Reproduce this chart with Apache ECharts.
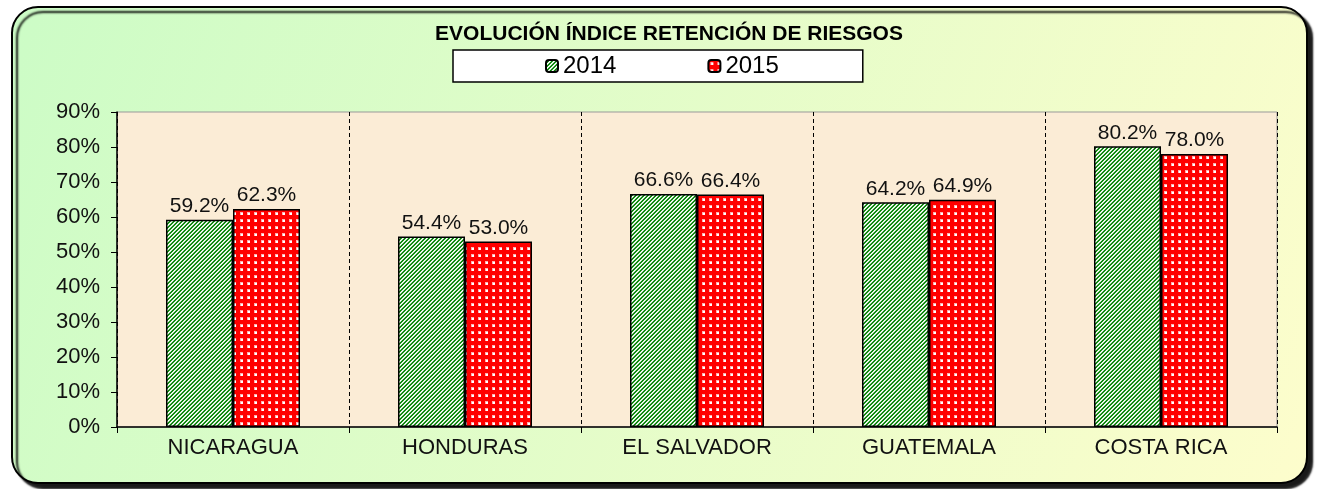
<!DOCTYPE html>
<html>
<head>
<meta charset="utf-8">
<script src="https://cdn.jsdelivr.net/npm/echarts@6/dist/echarts.min.js"></script>
<style>
  html, body { margin: 0; padding: 0; background: #fff; }
  #main { width: 1319px; height: 489px; }
</style>
</head>
<body>
<div id="main"></div>
<script>
const countries = ["NICARAGUA", "HONDURAS", "EL SALVADOR", "GUATEMALA", "COSTA RICA"];
const values2014 = [59.2, 54.4, 66.6, 64.2, 80.2];
const values2015 = [62.3, 53.0, 66.4, 64.9, 78.0];
const yTicks = [0, 10, 20, 30, 40, 50, 60, 70, 80, 90];

// trama verde de rayas diagonales
function stripePattern() {
  const c = document.createElement("canvas");
  c.width = 4; c.height = 4;
  const ctx = c.getContext("2d");
  const img = ctx.createImageData(4, 4);
  const cols = [[255, 255, 255], [200, 230, 200], [0, 128, 0], [40, 150, 40]];
  for (let y = 0; y < 4; y++) {
    for (let x = 0; x < 4; x++) {
      const col = cols[(x + y) % 4];
      const i = (y * 4 + x) * 4;
      img.data[i] = col[0]; img.data[i + 1] = col[1]; img.data[i + 2] = col[2]; img.data[i + 3] = 255;
    }
  }
  ctx.putImageData(img, 0, 0);
  return c;
}

// trama roja con puntos blancos
function dotPattern() {
  const c = document.createElement("canvas");
  c.width = 7; c.height = 7;
  const ctx = c.getContext("2d");
  ctx.fillStyle = "#ff0000";
  ctx.fillRect(0, 0, 7, 7);
  ctx.fillStyle = "#ffb0b0";
  ctx.fillRect(2, 2, 3, 3);
  ctx.fillStyle = "#ffffff";
  ctx.fillRect(3, 3, 2, 2);
  return c;
}

const chart = echarts.init(document.getElementById("main"));
const font = "'Liberation Sans', Arial, sans-serif";

chart.setOption({
  textStyle: { fontFamily: font },
  animation: false,
  graphic: [
    {
      type: "rect",
      z: -100,
      silent: true,
      shape: { x: 12, y: 7, width: 1295, height: 476, r: 26 },
      style: {
        fill: {
          type: "linear", x: 0, y: 0, x2: 1, y2: 1,
          colorStops: [
            { offset: 0, color: "#ccfcc6" },
            { offset: 1, color: "#fdfdcc" },
          ],
        },
        stroke: "#000",
        lineWidth: 2,
        shadowColor: "rgba(0,0,0,0.9)",
        shadowBlur: 2,
        shadowOffsetX: 5,
        shadowOffsetY: 5,
      },
    },
  ],
  title: {
    text: "EVOLUCIÓN ÍNDICE RETENCIÓN DE RIESGOS",
    left: 664,
    textAlign: "center",
    top: 19,
    textStyle: { fontSize: 21, fontWeight: "bold", color: "#000", fontFamily: font },
  },
  legend: {
    left: 453,
    top: 50,
    backgroundColor: "#fff",
    borderColor: "#000",
    borderWidth: 1.5,
    padding: [4, 84, 4, 92],
    itemGap: 91,
    itemWidth: 12,
    itemHeight: 12,
    textStyle: { fontSize: 24, color: "#000", fontFamily: font },
    data: ["2014", "2015"],
  },
  grid: {
    left: 117,
    top: 112,
    right: 42,
    bottom: 62,
    show: true,
    backgroundColor: "#fbecd6",
    borderColor: "#999",
    borderWidth: 1,
  },
  xAxis: {
    type: "category",
    data: countries,
    axisLine: { lineStyle: { color: "#000", width: 1.5 } },
    axisTick: { show: true, length: 6, lineStyle: { color: "#000" } },
    axisLabel: { fontSize: 22, color: "#111", margin: 10, fontFamily: font },
    splitLine: { show: true, lineStyle: { color: "#000", type: [4, 3], width: 1 } },
  },
  yAxis: {
    type: "value",
    min: yTicks[0],
    max: yTicks[yTicks.length - 1],
    interval: 10,
    axisLine: { show: true, lineStyle: { color: "#000", width: 1.5 } },
    axisTick: { show: true, length: 6, lineStyle: { color: "#000" } },
    axisLabel: { fontSize: 22, color: "#111", margin: 17, formatter: "{value}%", fontFamily: font },
    splitLine: { show: false },
  },
  series: [
    {
      name: "2014",
      type: "bar",
      data: values2014,
      barWidth: 67,
      barGap: "0%",
      itemStyle: {
        color: { image: stripePattern(), repeat: "repeat" },
        borderColor: "#000",
        borderWidth: 1.5,
      },
      label: {
        show: true,
        position: "top",
        distance: 3,
        fontSize: 21,
        color: "#111",
        fontFamily: font,
        formatter: (p) => p.value.toFixed(1) + "%",
      },
    },
    {
      name: "2015",
      type: "bar",
      data: values2015,
      barWidth: 67,
      barGap: "0%",
      itemStyle: {
        color: { image: dotPattern(), repeat: "repeat" },
        borderColor: "#000",
        borderWidth: 1.5,
      },
      label: {
        show: true,
        position: "top",
        distance: 3,
        fontSize: 21,
        color: "#111",
        fontFamily: font,
        formatter: (p) => p.value.toFixed(1) + "%",
      },
    },
  ],
});
</script>
</body>
</html>
